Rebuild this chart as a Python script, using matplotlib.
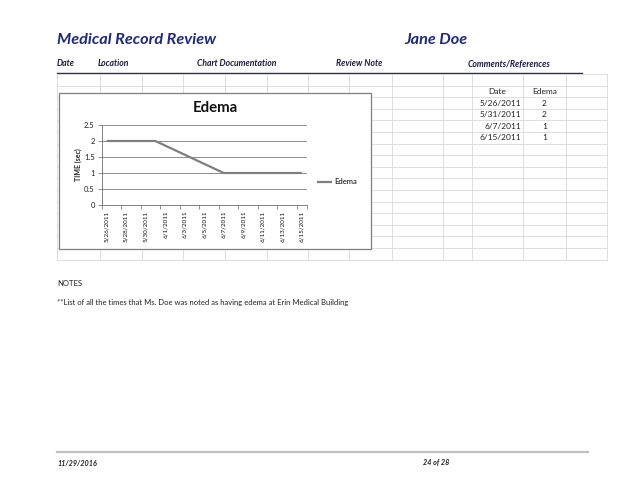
import datetime as dt
import matplotlib
matplotlib.use("Agg")
import matplotlib.pyplot as plt
import matplotlib.dates as mdates
from matplotlib.patches import Rectangle

plt.rcParams['font.family'] = ['Lato', 'DejaVu Sans']

# ---- data ----
dates = [dt.date(2011, 5, 26), dt.date(2011, 5, 31), dt.date(2011, 6, 7), dt.date(2011, 6, 15)]
edema = [2, 2, 1, 1]
date_labels = ["5/26/2011", "5/31/2011", "6/7/2011", "6/15/2011"]
y_ticks = [0, 0.5, 1, 1.5, 2, 2.5]
header_cols = ["Date", "Location", "Chart Documentation", "Review Note", "Comments/References"]
series_name = "Edema"

W, H = 638, 493
fig = plt.figure(figsize=(W / 100, H / 100), dpi=100)
bg = fig.add_axes([0, 0, 1, 1])
bg.set_xlim(0, W)
bg.set_ylim(H, 0)
bg.axis('off')

navy = '#1F2A78'
# header
bg.text(57, 40, "Medical Record Review", fontsize=11.7, fontweight='bold', fontstyle='italic',
        color=navy, va='center', ha='left')
bg.text(404, 40, "Jane Doe", fontsize=11.7, fontweight='bold', fontstyle='italic',
        color=navy, va='center', ha='left')
for x, t in zip([57, 98, 197, 336, 468], header_cols):
    bg.text(x, 64, t, fontsize=6.2, fontweight='bold', fontstyle='italic', color='#1a1a40',
            va='center', ha='left')
bg.plot([57, 582], [72.5, 72.5], color=navy, lw=1.0)

# grid
col_x = [57, 100, 142, 183, 225, 267, 308, 349, 392, 443, 472, 523, 566, 607]
row_y = [74 + 11.6 * i for i in range(17)]
for x in col_x:
    bg.plot([x, x], [row_y[0], row_y[-1]], color='#D9D9D9', lw=0.6)
for y in row_y:
    bg.plot([col_x[0], col_x[-1]], [y, y], color='#D9D9D9', lw=0.6)

# small data table in grid
bg.text(497.5, 91, "Date", fontsize=6, ha='center', va='center', color='#222222')
bg.text(544.5, 91, series_name, fontsize=6, ha='center', va='center', color='#222222')
for i, (lab, v) in enumerate(zip(date_labels, edema)):
    yc = row_y[2] + 11.6 * i + 5.8
    bg.text(521, yc, lab, fontsize=6, ha='right', va='center', color='#222222')
    bg.text(544.5, yc, str(v), fontsize=6, ha='center', va='center', color='#222222')

# chart box
bg.add_patch(Rectangle((59, 93), 312, 156, facecolor='white', edgecolor='#7F7F7F', lw=0.9, zorder=5))
bg.text(215, 108, "Edema", fontsize=10.8, fontweight='bold', ha='center', va='center',
        color='#111111', zorder=7)

# notes
bg.text(57, 284, "NOTES", fontsize=5.5, ha='left', va='center', color='#222222')
bg.text(57, 302, "**List of all the times that Ms. Doe was noted as having edema at Erin Medical Building",
        fontsize=5.5, ha='left', va='center', color='#222222')

# footer
bg.plot([57, 588], [452, 452], color='#C0C0C0', lw=1.6)
bg.text(57, 463, "11/29/2016", fontsize=5.2, fontweight='bold', fontstyle='italic', ha='left', va='center', color='#222222')
bg.text(423, 463, "24 of 28", fontsize=5.2, fontweight='bold', fontstyle='italic', ha='left', va='center', color='#222222')

# ---- chart ----
L, R, T, B = 101.7, 306.7, 125, 205
ax = fig.add_axes([L / W, 1 - B / H, (R - L) / W, (B - T) / H], zorder=6)
xd = mdates.date2num(dates)
start = mdates.date2num(dt.date(2011, 5, 26))
end = mdates.date2num(dt.date(2011, 6, 15))
line, = ax.plot(xd, edema, color='#7F7F7F', lw=1.6, label=series_name, solid_capstyle='butt')
ax.set_xlim(start - 0.5, end + 0.5)
ax.set_ylim(0, 2.5)
ax.set_yticks(y_ticks)
ax.set_yticklabels([f"{v:g}" for v in y_ticks])
major = [start + 2 * k for k in range(11)]
ax.set_xticks(major)
ax.set_xticklabels([f"{d.month}/{d.day}/{d.year}" for d in mdates.num2date(major)], rotation=90)
ax.set_xticks([start - 0.5 + 2 * k for k in range(11)] + [end + 0.5], minor=True)
ax.tick_params(axis='x', which='major', length=0, labelsize=4.5, pad=4, colors='#111111')
ax.tick_params(axis='x', which='minor', length=3, color='#808080', width=0.6, direction='out')
ax.tick_params(axis='y', length=3, color='#808080', width=0.6, labelsize=5.5, pad=2, labelcolor='#222222')
ax.grid(axis='y', color='#8C8C8C', lw=0.7)
ax.set_axisbelow(True)
for s in ['top', 'right']:
    ax.spines[s].set_visible(False)
for s in ['left', 'bottom']:
    ax.spines[s].set_color('#808080')
    ax.spines[s].set_linewidth(0.7)
ax.set_ylabel("TIME (sec)", fontsize=5, fontweight='bold', labelpad=1.5, color='#222222')
ax.legend(handles=[line], loc='center left', bbox_to_anchor=(317 / W, 1 - 182 / H),
          bbox_transform=fig.transFigure, frameon=False, fontsize=5.5, handlelength=1.9,
          handletextpad=0.3, borderaxespad=0, borderpad=0)

fig.savefig("out.png", dpi=100)
